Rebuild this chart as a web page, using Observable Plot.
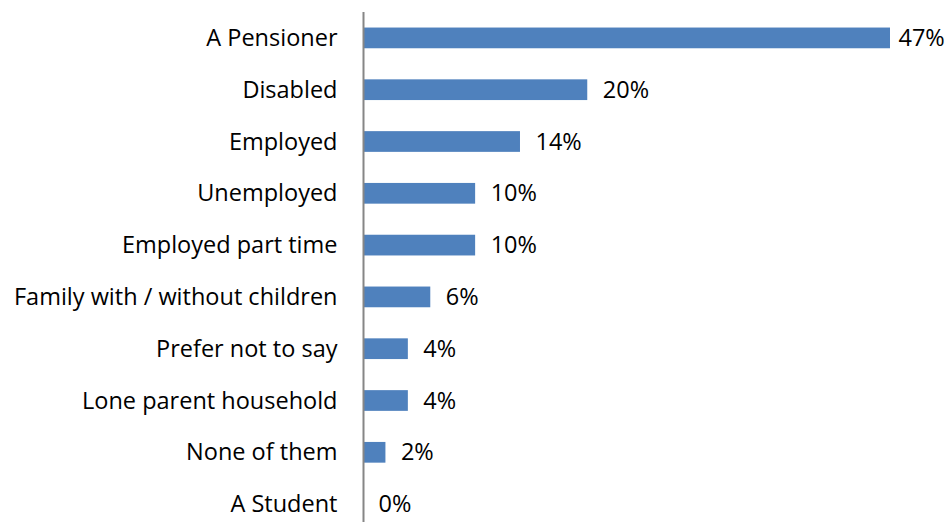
<!DOCTYPE html>
<html>
<head>
<meta charset="utf-8">
<script src="https://cdn.jsdelivr.net/npm/d3@7"></script>
<script src="https://cdn.jsdelivr.net/npm/@observablehq/plot@0.6"></script>
<style>
  html, body { margin: 0; padding: 0; background: #fff; overflow: hidden; }
  #chart svg { display: block; }
</style>
</head>
<body>
<div id="chart"></div>
<script>
const categories = [
  "A Pensioner",
  "Disabled",
  "Employed",
  "Unemployed",
  "Employed part time",
  "Family with / without children",
  "Prefer not to say",
  "Lone parent household",
  "None of them",
  "A Student"
];
const values = [47, 20, 14, 10, 10, 6, 4, 4, 2, 0];

const data = categories.map((c, i) => ({category: c, value: values[i]}));
const maxVal = d3.max(values);

const chart = Plot.plot({
  width: 949,
  height: 522,
  marginLeft: 363,
  marginRight: 59,
  marginTop: 12,
  marginBottom: 0,
  style: {fontFamily: "'Open Sans', sans-serif", fontSize: "23.5px", color: "#000", background: "#fff"},
  x: {domain: [0, 47], axis: null},
  y: {domain: categories, range: [12, 530], paddingInner: 0.6, paddingOuter: 0.3, round: false, axis: null},
  marks: [
    Plot.barX(data, {x: "value", y: "category", fill: "#4F81BD"}),
    Plot.ruleX([0], {stroke: "#868686", strokeWidth: 2}),
    Plot.text(data, {x: 0, y: "category", text: "category", textAnchor: "end", dx: -26, fill: "#000", fontSize: 23.5}),
    Plot.text(data.filter(d => d.value !== maxVal), {x: "value", y: "category", text: d => d.value + "%", textAnchor: "start", dx: 15, fill: "#000", fontSize: 23.5}),
    Plot.text(data.filter(d => d.value === maxVal), {x: "value", y: "category", text: d => d.value + "%", textAnchor: "start", dx: 8, fill: "#000", fontSize: 23.5})
  ]
});
document.getElementById("chart").appendChild(chart);
</script>
</body>
</html>
